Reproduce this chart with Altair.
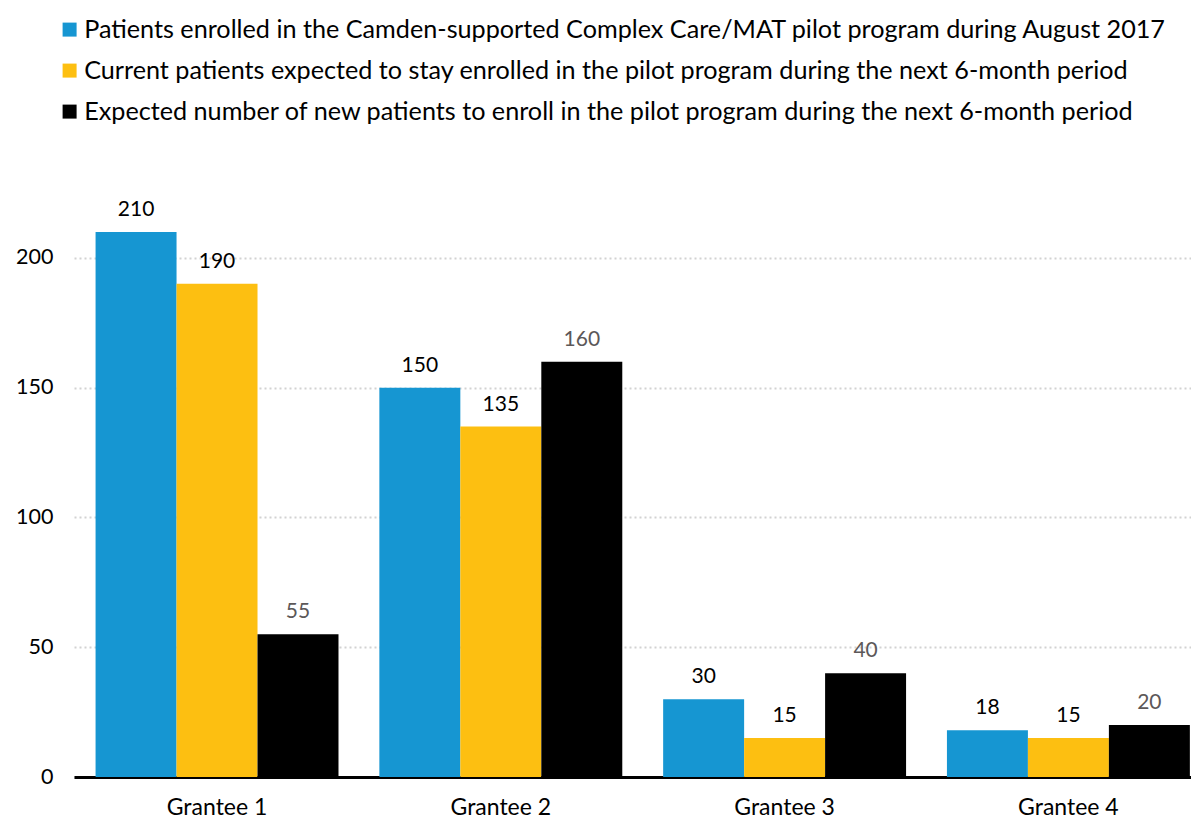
import altair as alt
import pandas as pd

grantees = ["Grantee 1", "Grantee 2", "Grantee 3", "Grantee 4"]
series_names = [
    "Patients enrolled in the Camden-supported Complex Care/MAT pilot program during August 2017",
    "Current patients expected to stay enrolled in the pilot program during the next 6-month period",
    "Expected number of new patients to enroll in the pilot program during the next 6-month period",
]
enrolled_aug = [210, 150, 30, 18]
stay_enrolled = [190, 135, 15, 15]
new_expected = [55, 160, 40, 20]
colors = ["#1696d2", "#fdbf11", "#000000"]
y_ticks = [0, 50, 100, 150, 200]

rows = []
for s, vals in zip(series_names, [enrolled_aug, stay_enrolled, new_expected]):
    for g, v in zip(grantees, vals):
        rows.append({"grantee": g, "series": s, "value": v})
df = pd.DataFrame(rows)

FONT = "Lato"

x = alt.X("grantee:N", sort=grantees, title=None,
          scale=alt.Scale(paddingInner=0.144, paddingOuter=0.04, align=0.95),
          axis=alt.Axis(labelAngle=0, ticks=False, domainColor="#000000", domainWidth=3,
                        labelFontSize=23, labelColor="#000000", labelPadding=19, labelFont=FONT,
                        grid=False))
y = alt.Y("value:Q", title=None,
          scale=alt.Scale(domain=[0, 230], nice=False),
          axis=alt.Axis(values=y_ticks, domain=False, ticks=False, grid=True,
                        gridDash=[2, 3], gridColor="#d2d2d2", gridWidth=2,
                        labelFontSize=21.5, labelColor="#000000", labelPadding=21, labelFont=FONT))
xoff = alt.XOffset("series:N", sort=series_names)

bars = alt.Chart(df).mark_bar().encode(
    x=x, y=y, xOffset=xoff,
    color=alt.Color("series:N", sort=series_names,
                    scale=alt.Scale(domain=series_names, range=colors),
                    legend=alt.Legend(title=None, orient="none", legendX=-17, legendY=-163,
                                      padding=0,
                                      symbolType="square", symbolSize=196, symbolStrokeWidth=0,
                                      symbolOpacity=1,
                                      labelFontSize=25.2, labelFont=FONT, labelColor="#000000",
                                      labelLimit=2000, rowPadding=15, labelOffset=2)),
)

labels = alt.Chart(df).mark_text(baseline="alphabetic", dy=-16, fontSize=21, font=FONT).encode(
    x=x, y=y, xOffset=xoff,
    text=alt.Text("value:Q"),
    color=alt.condition(alt.datum.series == series_names[2], alt.value("#5c5859"), alt.value("#000000")),
)

chart = (bars + labels).properties(
    width=1117, height=597,
    autosize=alt.AutoSizeParams(type="none"),
    padding={"left": 66, "top": 172, "right": 0, "bottom": 42},
).configure(font=FONT).configure_view(strokeWidth=0, stroke="transparent")

chart.save("out.html", embed_options={"renderer": "svg", "actions": False})
